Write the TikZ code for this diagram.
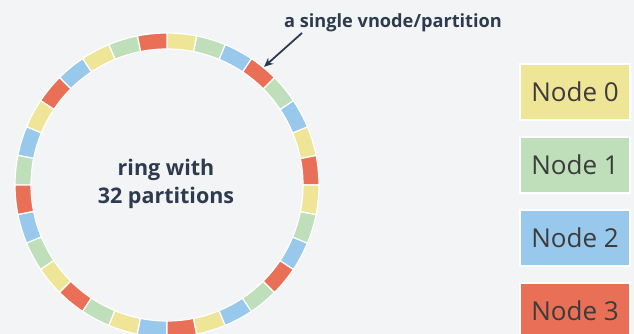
\documentclass[tikz,border=0pt]{standalone}
\usepackage{fontspec}
\setmainfont{Open Sans}
\usetikzlibrary{positioning,arrows.meta}

\definecolor{bgcol}{HTML}{F3F4F6}
\definecolor{ylw}{HTML}{EFE597}
\definecolor{grn}{HTML}{BEDFB9}
\definecolor{blu}{HTML}{98C8EB}
\definecolor{rd}{HTML}{E96F56}
\definecolor{ink}{HTML}{2E3B4E}
\definecolor{nodeink}{HTML}{3C3C3C}

\tikzset{
  legend/.style={draw=white,line width=2pt,minimum width=110pt,minimum height=56pt,
    inner sep=0pt,text=nodeink,font=\fontsize{26}{30}\selectfont},
  vnode/.style={draw=white,line width=1.2pt}
}

\begin{document}
\begin{tikzpicture}[x=1pt,y=1pt]
\fill[bgcol] (0,0) rectangle (634,334);
\useasboundingbox (0,0) rectangle (634,334);

% ring of 32 partitions, counterclockwise from the right
\begin{scope}[shift={(167,149)}]
\foreach \c [count=\i from 0] in {rd,ylw,blu,grn,rd,blu,grn,ylw,
                                  rd,grn,ylw,blu,rd,ylw,blu,grn,
                                  rd,blu,grn,ylw,rd,grn,ylw,blu,
                                  rd,ylw,blu,grn,rd,blu,grn,ylw}
  \filldraw[vnode,fill=\c] (\i*11.25:136pt) arc[start angle=\i*11.25,delta angle=11.25,radius=136pt]
    -- (\i*11.25+11.25:152pt) arc[start angle=\i*11.25+11.25,delta angle=-11.25,radius=152pt] -- cycle;
\coordinate (part) at (50.6:153pt);
\end{scope}

\node[align=center,text=ink,font=\bfseries\fontsize{21.5}{28}\selectfont] (ring) at (166,150) {ring with\\32 partitions};

\node[text=ink,font=\bfseries\fontsize{18.2}{22}\selectfont] (single) at (393,311) {a single vnode/partition};
\draw[-{Stealth[length=9pt,width=8pt]},ink,line width=1.8pt] (302,301) -- (part);

% legend
\node[legend,fill=ylw] (node0) at (575,242) {Node 0};
\node[legend,fill=grn,below=15pt of node0] (node1) {Node 1};
\node[legend,fill=blu,below=15pt of node1] (node2) {Node 2};
\node[legend,fill=rd,below=15pt of node2] (node3) {Node 3};
\end{tikzpicture}
\end{document}
